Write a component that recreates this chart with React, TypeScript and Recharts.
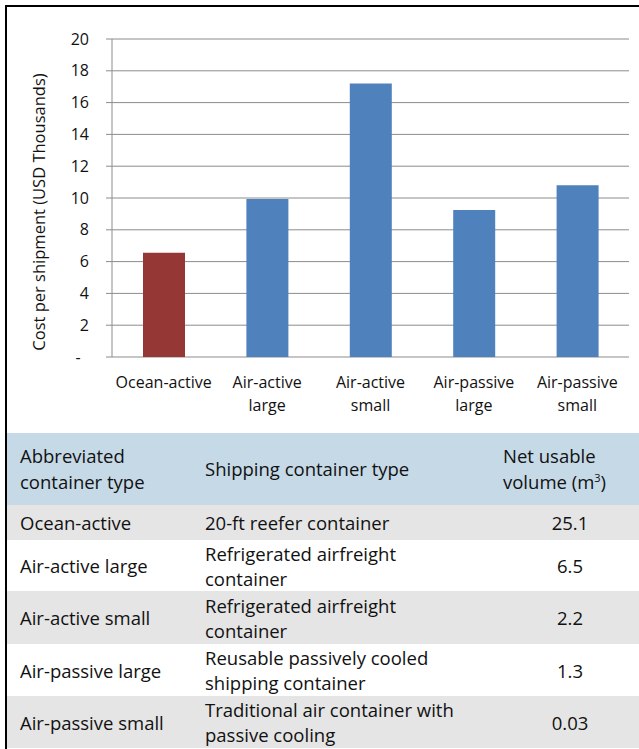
import React from 'react';
import { BarChart, Bar, Cell, XAxis, YAxis, CartesianGrid } from 'recharts';

// Cost per shipment, USD thousands
const containerTypes = ['Ocean-active', 'Air-active large', 'Air-active small', 'Air-passive large', 'Air-passive small'];
const costPerShipment = [6.55, 9.93, 17.2, 9.25, 10.8];
const barColors = ['#953735', '#4f81bd', '#4f81bd', '#4f81bd', '#4f81bd'];
const yTicks = [0, 2, 4, 6, 8, 10, 12, 14, 16, 18, 20];
const boundaryTicks = [0, 1, 2, 3, 4, 5];

// Table below the chart
const shippingTypes = [
  ['20-ft reefer container'],
  ['Refrigerated airfreight', 'container'],
  ['Refrigerated airfreight', 'container'],
  ['Reusable passively cooled', 'shipping container'],
  ['Traditional air container with', 'passive cooling'],
];
const netVolumes = ['25.1', '6.5', '2.2', '1.3', '0.03'];

const FONT = '"Open Sans", Lato, sans-serif';

const chartData = containerTypes.map((name, i) => ({
  name,
  idx: i + 0.5,
  cost: costPerShipment[i],
}));

function CategoryTick(props: any) {
  const { x, y, payload } = props;
  const label: string = payload.value;
  const sp = label.indexOf(' ');
  const lines = sp < 0 ? [label] : [label.slice(0, sp), label.slice(sp + 1)];
  return (
    <text x={x} y={y} textAnchor="middle" fill="#111" fontSize={16} fontFamily={FONT}>
      {lines.map((l, i) => (
        <tspan key={i} x={x} dy={i === 0 ? 0 : 23}>
          {l}
        </tspan>
      ))}
    </text>
  );
}

function YLabel() {
  return (
    <text
      x={38}
      y={212}
      transform="rotate(-90, 38, 212)"
      textAnchor="middle"
      dominantBaseline="central"
      fontSize={16.5}
      fontFamily={FONT}
      fill="#111"
    >
      Cost per shipment (USD Thousands)
    </text>
  );
}

export default function App() {
  const rowBg = (i: number) => (i % 2 === 0 ? '#e5e5e5' : '#ffffff');
  return (
    <div
      style={{
        position: 'absolute',
        left: 0,
        top: 0,
        width: 639,
        height: 749,
        background: '#fff',
        overflow: 'hidden',
        fontFamily: FONT,
      }}
    >
      <div style={{ position: 'absolute', left: 5, top: 5, width: 634, height: 2, background: '#000' }} />
      <div style={{ position: 'absolute', left: 5, top: 5, width: 2, height: 744, background: '#000' }} />

      <div style={{ position: 'absolute', left: 0, top: 0 }}>
        <BarChart
          width={639}
          height={430}
          data={chartData}
          margin={{ top: 39, right: 10, left: 0, bottom: 0 }}
        >
          <CartesianGrid vertical={false} stroke="#8c8c8c" strokeWidth={1} />
          <XAxis
            xAxisId="bounds"
            dataKey="idx"
            type="number"
            domain={[0, 5]}
            ticks={boundaryTicks}
            height={0}
            tick={false}
            tickSize={6}
            axisLine={{ stroke: '#8c8c8c' }}
            tickLine={{ stroke: '#8c8c8c' }}
          />
          <XAxis
            dataKey="name"
            height={73}
            axisLine={false}
            tickLine={false}
            tickMargin={0}
            tickSize={31}
            interval={0}
            tick={<CategoryTick />}
          />
          <YAxis
            width={112}
            domain={[0, 20]}
            ticks={yTicks}
            interval={0}
            tickSize={6}
            tickMargin={17}
            axisLine={{ stroke: '#8c8c8c' }}
            tickLine={{ stroke: '#8c8c8c' }}
            tick={{ fill: '#111', fontSize: 16, fontFamily: FONT }}
            tickFormatter={(v: number) => (v === 0 ? '-\u00a0\u00a0' : String(v))}
            label={<YLabel />}
          />
          <Bar dataKey="cost" isAnimationActive={false} barSize={42}>
            {chartData.map((d, i) => (
              <Cell key={d.name} fill={barColors[i]} />
            ))}
          </Bar>
        </BarChart>
      </div>

      <div style={{ position: 'absolute', left: 7, top: 433, width: 632, fontSize: 18.5, color: '#111' }}>
        <div
          style={{
            display: 'flex',
            alignItems: 'center',
            height: 72,
            background: '#c6d9e7',
            lineHeight: '26px',
          }}
        >
          <div style={{ width: 198, paddingLeft: 13, boxSizing: 'border-box' }}>
            Abbreviated
            <br />
            container type
          </div>
          <div style={{ width: 298 }}>Shipping container type</div>
          <div style={{ flex: 1 }}>
            Net usable
            <br />
            volume (m<sup style={{ fontSize: 11, lineHeight: 0 }}>3</sup>)
          </div>
        </div>
        {containerTypes.map((name, i) => (
          <div
            key={name}
            style={{
              display: 'flex',
              alignItems: 'center',
              height: i === 0 ? 35 : i === 1 ? 51 : i === 2 ? 53 : 52,
              background: rowBg(i),
              lineHeight: '25px',
            }}
          >
            <div style={{ width: 198, paddingLeft: 13, boxSizing: 'border-box' }}>{name}</div>
            <div style={{ width: 298 }}>
              {shippingTypes[i].map((l, j) => (
                <div key={j}>{l}</div>
              ))}
            </div>
            <div style={{ flex: 1, textAlign: 'center', paddingRight: 2 }}>{netVolumes[i]}</div>
          </div>
        ))}
      </div>
    </div>
  );
}
